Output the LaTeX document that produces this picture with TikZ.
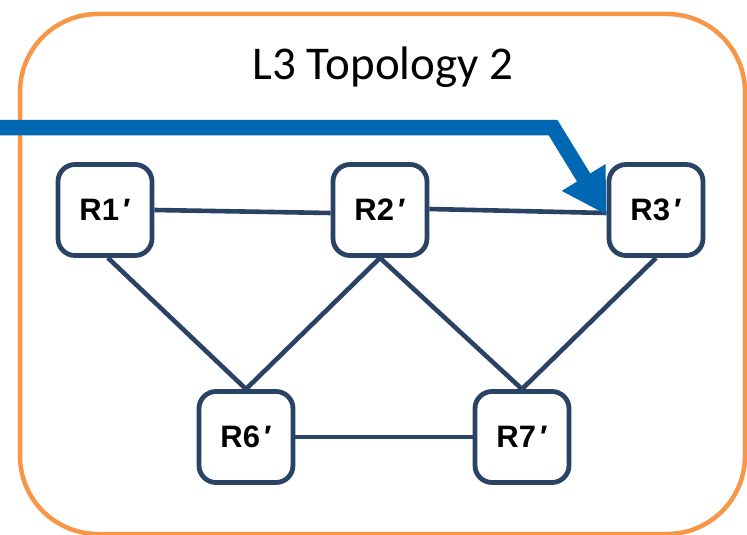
\documentclass[tikz,border=0pt]{standalone}
\usepackage{fontspec}
\setmainfont{Carlito}
\newfontfamily\routerfont{Liberation Sans}
\usetikzlibrary{arrows.meta}
\definecolor{frameorange}{RGB}{247,150,70}
\definecolor{routernavy}{RGB}{42,67,101}
\definecolor{flowblue}{RGB}{0,103,179}
\newcommand{\rname}[1]{#1\kern4pt′}
\tikzset{
  router/.style={draw=routernavy, line width=4.8pt, rounded corners=17pt, fill=white,
    minimum width=94pt, minimum height=91pt, inner sep=0pt,
    font=\routerfont\bfseries\fontsize{31}{34}\selectfont},
  link/.style={draw=routernavy, line width=4.6pt},
  flow/.style={draw=flowblue, line width=15.5pt, line join=miter,
    -{Triangle[length=44pt,width=48pt]}},
}
\begin{document}
\begin{tikzpicture}[x=1pt,y=-1pt]
  \useasboundingbox (0,0) rectangle (747,535);
  % outer frame
  \draw[frameorange, line width=4.5pt, rounded corners=78pt] (20,14) rectangle (745,534);
  \node[anchor=base, font=\fontsize{47}{50}\selectfont] (title) at (383,80) {L3 Topology 2};

  % routers
  \node[router] (r1) at (105,210) {\rname{R1}};
  \node[router] (r2) at (380,210) {\rname{R2}};
  \node[router] (r3) at (656,210) {\rname{R3}};
  \node[router] (r6) at (246,437) {\rname{R6}};
  \node[router] (r7) at (522,437) {\rname{R7}};

  % links
  \draw[link] (r1.east) -- ([yshift=-3pt]r2.west);
  \draw[link] ([yshift=1pt]r2.east) -- ([yshift=-3pt]r3.west);
  \draw[link] (r6.east) -- (r7.west);
  \draw[link] ([xshift=3pt]r1.south) -- (r6.north);
  \draw[link] (r2.south) -- (r6.north);
  \draw[link] (r2.south) -- (r7.north);
  \draw[link] (r3.south) -- (r7.north);

  % traffic path entering from the left
  \coordinate (src) at (0,127.5);
  \coordinate (bend) at (553,127.5);
  \draw[flow] (src) -- (bend) -- ([yshift=-5pt]r3.west);
\end{tikzpicture}
\end{document}
